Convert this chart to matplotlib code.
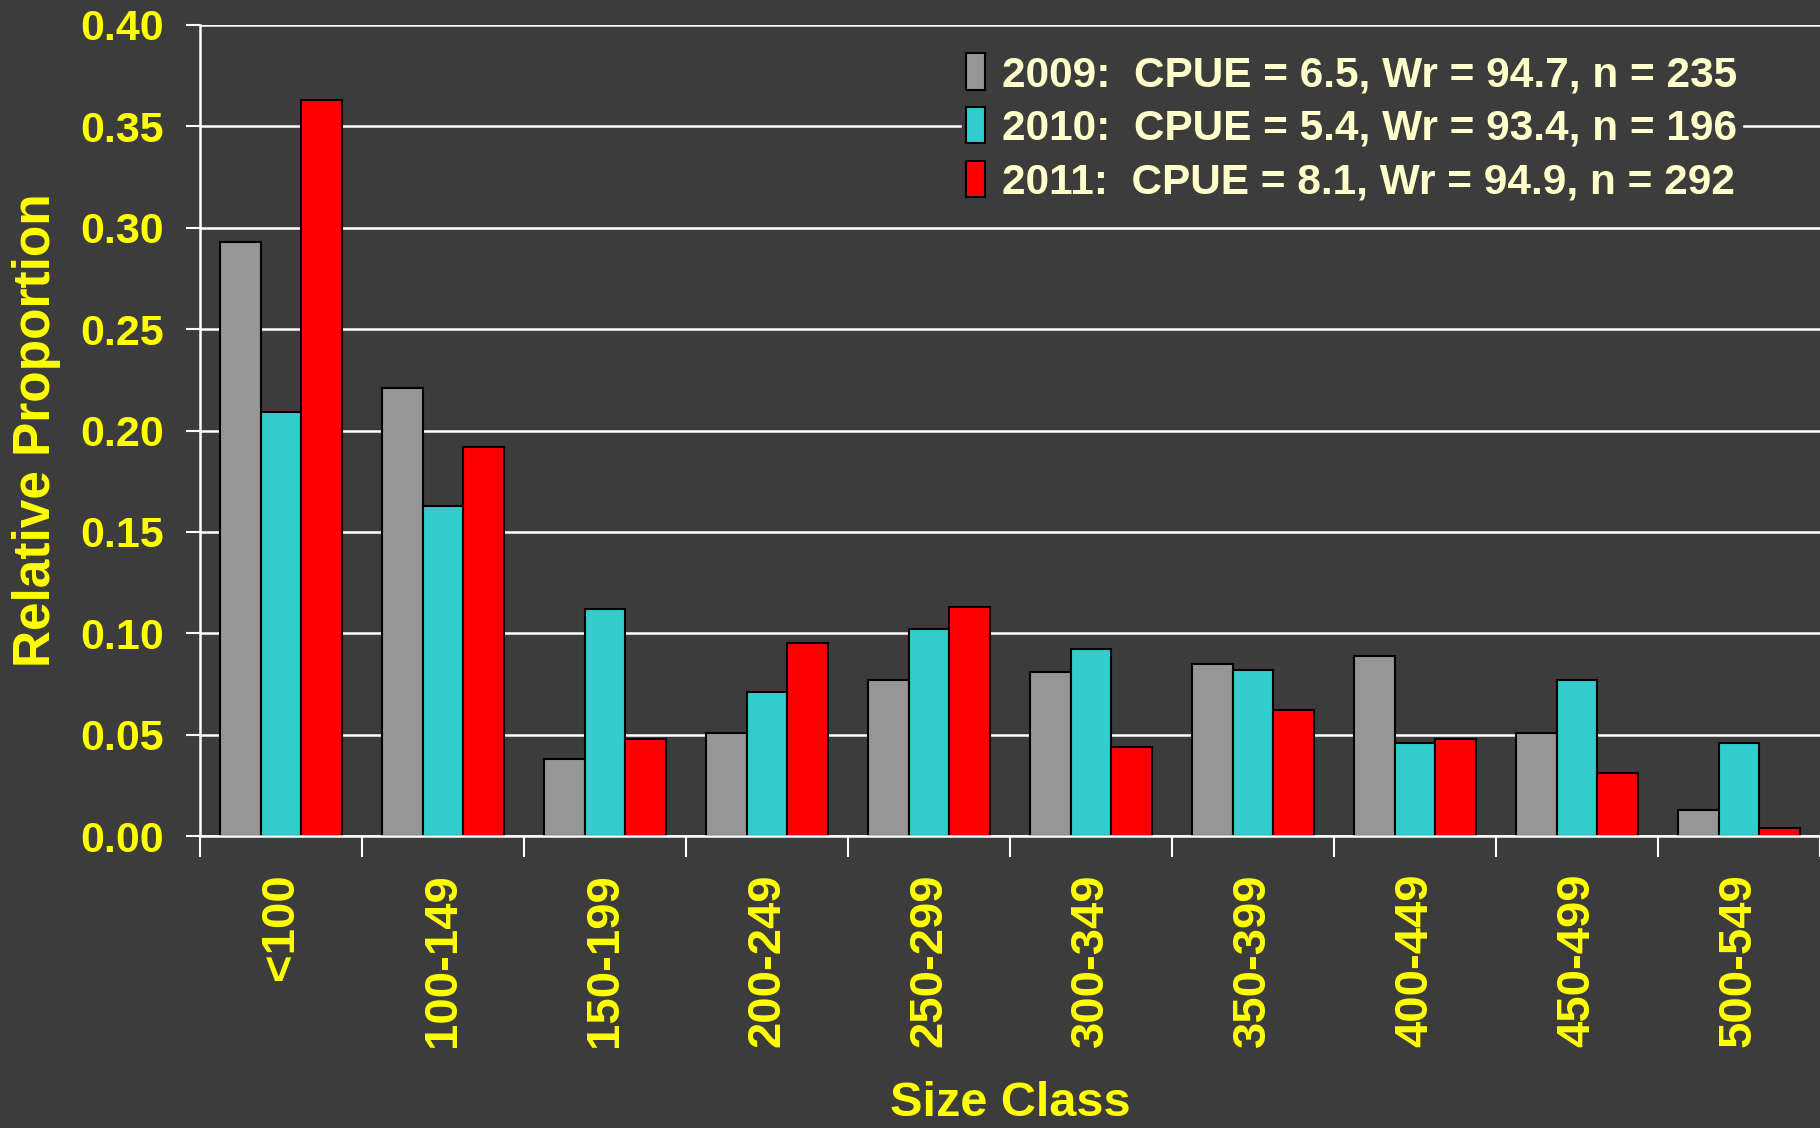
import numpy as np
import matplotlib.pyplot as plt
from matplotlib.ticker import FixedLocator

# Size classes and relative proportions per year
size_classes = ['<100', '100-149', '150-199', '200-249', '250-299',
                '300-349', '350-399', '400-449', '450-499', '500-549']
prop_2009 = [0.293, 0.221, 0.038, 0.051, 0.077, 0.081, 0.085, 0.089, 0.051, 0.013]
prop_2010 = [0.209, 0.163, 0.112, 0.071, 0.102, 0.092, 0.082, 0.046, 0.077, 0.046]
prop_2011 = [0.363, 0.192, 0.048, 0.095, 0.113, 0.044, 0.062, 0.048, 0.031, 0.004]
legend_labels = ['2009:  CPUE = 6.5, Wr = 94.7, n = 235',
                 '2010:  CPUE = 5.4, Wr = 93.4, n = 196',
                 '2011:  CPUE = 8.1, Wr = 94.9, n = 292']

bg = '#3c3c3c'
yellow = '#ffff00'
cream = '#ffffcc'
bold_font = ['Liberation Sans', 'DejaVu Sans']
narrow_font = ['Liberation Sans Narrow', 'Liberation Sans', 'DejaVu Sans']

fig = plt.figure(figsize=(18.2, 11.28), dpi=100, facecolor=bg)
ax = fig.add_axes([200 / 1820, 292 / 1128, 1620 / 1820, 811 / 1128])
ax.set_facecolor(bg)

x = np.arange(len(size_classes))
w = 0.25
series = [(prop_2009, '#969696'), (prop_2010, '#33cccc'), (prop_2011, '#ff0000')]
for i, (vals, col) in enumerate(series):
    ax.bar(x + (i - 1) * w, vals, w, color=col, edgecolor='black', linewidth=1.5,
           label=legend_labels[i], zorder=3)

ax.set_xlim(-0.5, len(size_classes) - 0.5)
ax.set_ylim(0, 0.40)
ax.set_yticks(np.arange(0, 0.401, 0.05))
ax.yaxis.set_major_formatter(plt.FormatStrFormatter('%.2f'))
ax.grid(axis='y', color='white', linewidth=1.8, zorder=0)

ax.set_xticks(x)
ax.set_xticklabels(size_classes, rotation=90, va='top', ha='center')
ax.xaxis.set_minor_locator(FixedLocator(np.arange(-0.5, len(size_classes), 1.0)))
ax.tick_params(axis='x', which='major', length=0, pad=27)
ax.tick_params(axis='x', which='minor', length=15, width=1.5, color='white')
ax.tick_params(axis='y', length=10, width=1.5, color='white', pad=16)

for lab in ax.get_xticklabels() + ax.get_yticklabels():
    lab.set_color(yellow)
    lab.set_fontweight('bold')
    lab.set_family(bold_font)
for lab in ax.get_xticklabels():
    lab.set_fontsize(34)
for lab in ax.get_yticklabels():
    lab.set_fontsize(31)

for s in ['top', 'right']:
    ax.spines[s].set_visible(False)
for s in ['left', 'bottom']:
    ax.spines[s].set_color('white')
    ax.spines[s].set_linewidth(1.8)
    ax.spines[s].set_zorder(4)

ax.set_ylabel('Relative Proportion', color=yellow, fontsize=37, fontweight='bold',
              family=bold_font, labelpad=14)
fig.text(1010 / 1820, 1 - 1104 / 1128, 'Size Class', color=yellow, fontsize=35,
         fontweight='bold', family=narrow_font, ha='center', va='center')

leg = ax.legend(loc='upper left', bbox_to_anchor=(962 / 1820, 1 - 49 / 1128),
                bbox_transform=fig.transFigure, frameon=True, facecolor=bg,
                edgecolor=bg, framealpha=1, fancybox=False,
                prop={'family': narrow_font, 'weight': 'bold', 'size': 30.5},
                handlelength=0.45, handleheight=0.95, handletextpad=0.4,
                labelspacing=0.28, borderpad=0.1, borderaxespad=0)
leg.set_zorder(5)
for t in leg.get_texts():
    t.set_color(cream)

fig.savefig('out.png', dpi=100, facecolor=bg)
